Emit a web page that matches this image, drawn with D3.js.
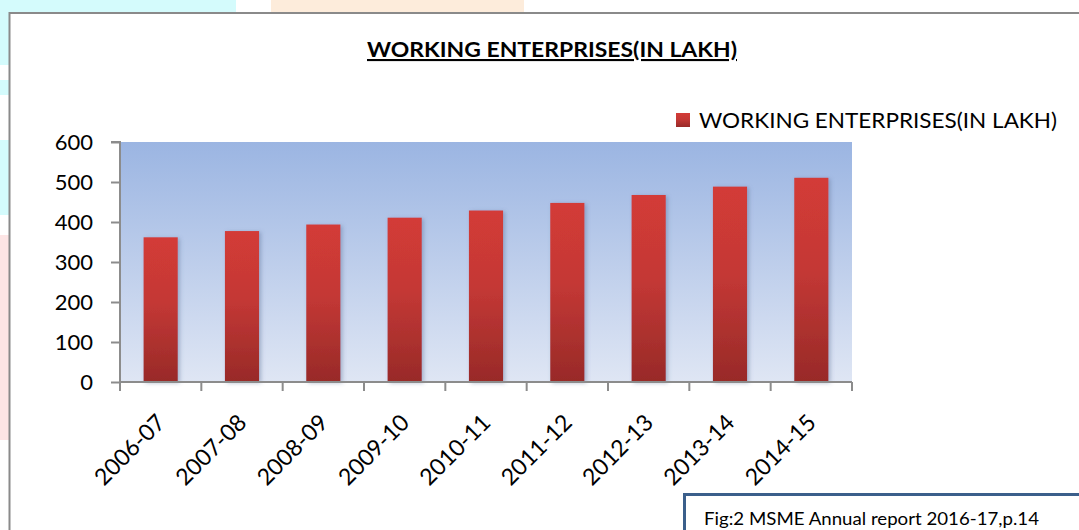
<!DOCTYPE html>
<html>
<head>
<meta charset="utf-8">
<script src="https://cdn.jsdelivr.net/npm/d3@7"></script>
<style>
  html, body { margin: 0; padding: 0; background: #ffffff; }
  svg { display: block; }
  text { font-family: Lato, "Open Sans", sans-serif; fill: #000; }
</style>
</head>
<body>
<svg id="chart" width="1079" height="530"></svg>
<script>
const categories = ["2006-07","2007-08","2008-09","2009-10","2010-11","2011-12","2012-13","2013-14","2014-15"];
const values = [361.76, 377.37, 393.70, 410.82, 428.73, 447.73, 467.56, 488.46, 510.57];
const yTicks = [0, 100, 200, 300, 400, 500, 600];
const seriesName = "WORKING ENTERPRISES(IN LAKH)";
const titleText = "WORKING ENTERPRISES(IN LAKH)";
const sourceText = "Fig:2 MSME Annual report 2016-17,p.14";

const svg = d3.select("#chart");
const W = 1079, H = 530;

const defs = svg.append("defs");
const bg = defs.append("linearGradient").attr("id", "plotGrad")
  .attr("x1", 0).attr("y1", 0).attr("x2", 0).attr("y2", 1);
bg.append("stop").attr("offset", "0%").attr("stop-color", "#9bb5e2");
bg.append("stop").attr("offset", "100%").attr("stop-color", "#dfe6f4");

const barGrad = defs.append("linearGradient").attr("id", "barGrad")
  .attr("x1", 0).attr("y1", 0).attr("x2", 0).attr("y2", 1);
barGrad.append("stop").attr("offset", "0%").attr("stop-color", "#d33b37");
barGrad.append("stop").attr("offset", "45%").attr("stop-color", "#c43835");
barGrad.append("stop").attr("offset", "100%").attr("stop-color", "#982a28");

const shadow = defs.append("filter").attr("id", "shadow")
  .attr("x", "-30%").attr("y", "-10%").attr("width", "160%").attr("height", "120%");
shadow.append("feDropShadow").attr("dx", 2).attr("dy", 1).attr("stdDeviation", 2.2)
  .attr("flood-color", "#5a6f95").attr("flood-opacity", 0.45);

// decorative page background (outside the chart frame)
const deco = svg.append("g");
deco.append("rect").attr("x", 0).attr("y", 0).attr("width", 236).attr("height", 13).attr("fill", "#d4fbfc");
deco.append("rect").attr("x", 271).attr("y", 0).attr("width", 253).attr("height", 13).attr("fill", "#fdecdb");
deco.append("rect").attr("x", 0).attr("y", 0).attr("width", 9).attr("height", 65).attr("fill", "#d4fbfc");
deco.append("rect").attr("x", 0).attr("y", 80).attr("width", 9).attr("height", 15).attr("fill", "#d4fbfc");
deco.append("rect").attr("x", 0).attr("y", 140).attr("width", 9).attr("height", 75).attr("fill", "#d4fbfc");
deco.append("rect").attr("x", 0).attr("y", 235).attr("width", 9).attr("height", 205).attr("fill", "#fde5e5");

// chart frame
svg.append("rect").attr("x", 9.5).attr("y", 13).attr("width", W + 10).attr("height", H + 10)
  .attr("fill", "#ffffff").attr("stroke", "#8a8a8a").attr("stroke-width", 2);

// plot
const x0 = 120, x1 = 852, y0 = 382, y1 = 142;
const x = d3.scaleBand().domain(categories).range([x0, x1]).paddingInner(0.58).paddingOuter(0.29);
const xb = d3.scaleBand().domain(categories).range([x0, x1]);
const y = d3.scaleLinear().domain([0, 600]).range([y0, y1]);

svg.append("rect").attr("x", x0).attr("y", y1).attr("width", x1 - x0).attr("height", y0 - y1)
  .attr("fill", "url(#plotGrad)");

svg.append("g").selectAll("rect").data(values).join("rect")
  .attr("x", (d, i) => x(categories[i]))
  .attr("y", d => y(d))
  .attr("width", x.bandwidth())
  .attr("height", d => y0 - y(d))
  .attr("fill", "url(#barGrad)")
  .attr("filter", "url(#shadow)");

// y axis
const yAxis = svg.append("g").attr("transform", `translate(${x0},0)`)
  .call(d3.axisLeft(y).tickValues(yTicks).tickSize(9).tickPadding(18).tickFormat(d3.format("d")));
yAxis.select(".domain").attr("stroke", "#8c8c8c").attr("stroke-width", 2).attr("d", `M-9,${y1}H0V${y0}`);
yAxis.selectAll(".tick line").attr("stroke", "#8c8c8c").attr("stroke-width", 2);
yAxis.selectAll(".tick text").attr("font-size", 22).attr("font-family", "Lato").attr("fill", "#000");

// x axis with ticks at category boundaries
const xAxis = svg.append("g").attr("transform", `translate(0,${y0})`);
xAxis.append("line").attr("x1", x0).attr("x2", x1).attr("y1", 0).attr("y2", 0)
  .attr("stroke", "#8c8c8c").attr("stroke-width", 2);
const bounds = categories.map(c => xb(c)).concat([x1]);
xAxis.selectAll("line.tk").data(bounds).join("line").attr("class", "tk")
  .attr("x1", d => d).attr("x2", d => d).attr("y1", 0).attr("y2", 9)
  .attr("stroke", "#8c8c8c").attr("stroke-width", 2);
xAxis.selectAll("text").data(categories).join("text")
  .attr("transform", d => `translate(${xb(d) + xb.bandwidth() / 2 + 6},${42}) rotate(-45)`)
  .attr("text-anchor", "end")
  .attr("font-size", 23)
  .text(d => d);

// title
svg.append("text").attr("x", 367).attr("y", 57)
  .attr("font-size", 21).attr("font-weight", "bold").attr("text-decoration", "underline")
  .attr("textLength", 370).attr("lengthAdjust", "spacingAndGlyphs").text(titleText);

// legend
svg.append("rect").attr("x", 676).attr("y", 113).attr("width", 14).attr("height", 14).attr("fill", "url(#barGrad)");
svg.append("text").attr("x", 699).attr("y", 128).attr("font-size", 21)
  .attr("textLength", 358).attr("lengthAdjust", "spacingAndGlyphs").text(seriesName);

// source box
svg.append("rect").attr("x", 684.5).attr("y", 494.5).attr("width", 420).attr("height", 60)
  .attr("fill", "#ffffff").attr("stroke", "#3b5f8b").attr("stroke-width", 3);
svg.append("text").attr("x", 704).attr("y", 525).attr("font-size", 18)
  .attr("textLength", 335).attr("lengthAdjust", "spacingAndGlyphs").text(sourceText);
</script>
</body>
</html>
